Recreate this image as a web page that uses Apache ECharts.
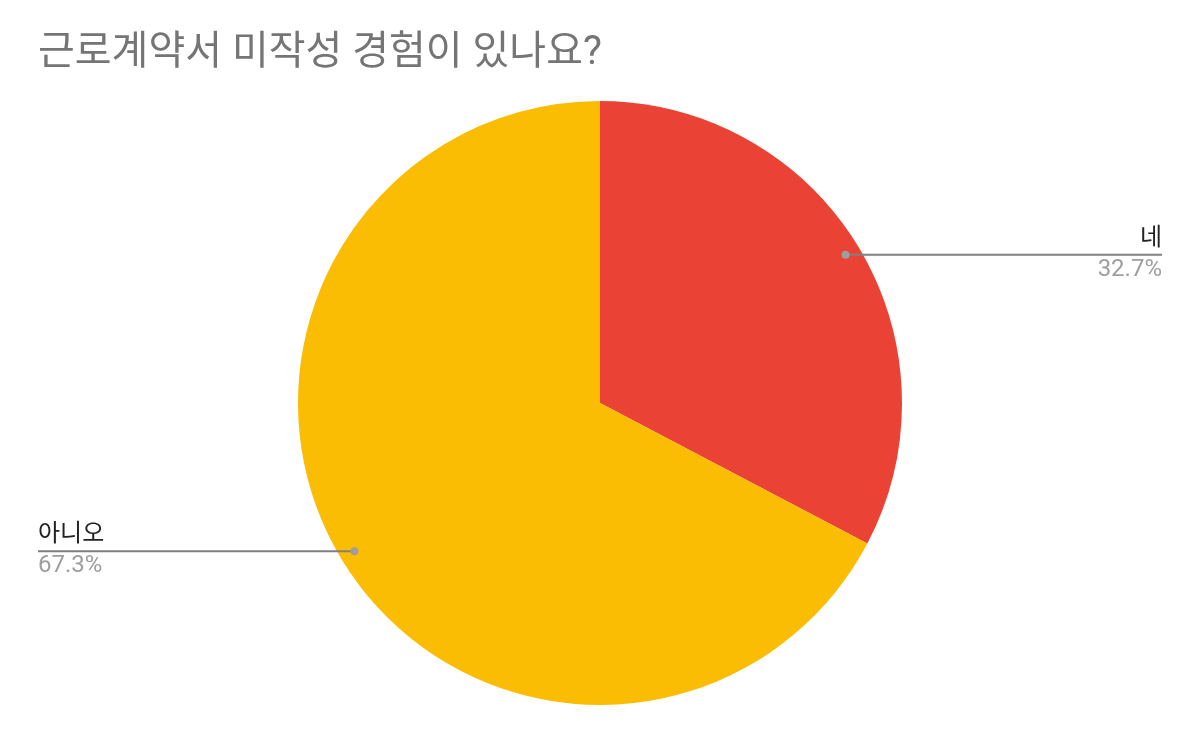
<!DOCTYPE html>
<html>
<head>
<meta charset="utf-8">
<script src="https://cdn.jsdelivr.net/npm/echarts@6/dist/echarts.min.js"></script>
<style>
html,body{margin:0;padding:0;background:#fff;}
#main{width:1200px;height:742px;}
</style>
</head>
<body>
<div id="main"></div>
<script>
// 데이터
var categories = ['네', '아니오'];
var values = [32.7, 67.3];
var colors = ['#ea4335', '#fbbc04'];

var cx = 600, cy = 403, R = 302;
var edge = 38;
var dotRatio = 0.95;

var chart = echarts.init(document.getElementById('main'));

function makeData(withColor) {
	return categories.map(function (c, i) {
		var d = { name: c, value: values[i] };
		if (withColor) d.itemStyle = { color: colors[i] };
		return d;
	});
}

// 조각 가운데 각도의 점 (시계방향, 12시 시작)
function midPoint(idx, r) {
	var total = 0, before = 0;
	for (var i = 0; i < values.length; i++) {
		total += values[i];
		if (i < idx) before += values[i];
	}
	var f = (before + values[idx] / 2) / total;
	var a = f * Math.PI * 2;
	return [cx + r * Math.sin(a), cy - r * Math.cos(a)];
}

// 라벨 위치 : 점에서 수평선으로 가장자리까지
function layoutLabel(params) {
	var p = midPoint(params.dataIndex, R * dotRatio);
	var right = p[0] > cx;
	var ex = right ? chart.getWidth() - edge : edge;
	return {
		x: ex,
		y: p[1] - 32,
		align: right ? 'right' : 'left',
		verticalAlign: 'top',
		labelLinePoints: [[p[0], p[1]], [ex, p[1]], [ex, p[1]]]
	};
}

//점 위치
function layoutDot(params) {
	var p = midPoint(params.dataIndex, R * dotRatio);
	return { x: p[0], y: p[1], align: 'center', verticalAlign: 'middle' };
}

var fontFamily = 'Roboto, "Noto Sans CJK KR", sans-serif';

chart.setOption({
	animation: false,
	title: {
		text: '근로계약서 미작성 경험이 있나요?',
		left: 33,
		top: 29,
		textStyle: {
			fontFamily: fontFamily,
			fontSize: 40,
			fontWeight: 'normal',
			color: '#757575'
		}
	},
	series: [
		{
			// 색 조각
			type: 'pie',
			center: [cx, cy],
			radius: [0, R],
			startAngle: 90,
			clockwise: true,
			silent: true,
			z: 2,
			data: makeData(true),
			label: { show: false },
			labelLine: { show: false }
		},
		{
			// 라벨 + 지시선 (투명 조각 위에)
			type: 'pie',
			center: [cx, cy],
			radius: [0, R],
			startAngle: 90,
			clockwise: true,
			percentPrecision: 1,
			silent: true,
			z: 3,
			data: makeData(false),
			itemStyle: { color: 'rgba(0,0,0,0)' },
			label: {
				show: true,
				formatter: '{n|{b}}\n{p|{d}%}',
				rich: {
					n: {
						fontFamily: fontFamily,
						fontSize: 24,
						color: '#222222',
						height: 32
					},
					p: {
						fontFamily: fontFamily,
						fontSize: 24,
						color: '#9e9e9e',
						height: 30
					}
				}
			},
			labelLine: {
				show: true,
				lineStyle: { color: '#7f7f7f', width: 2 }
			},
			labelLayout: layoutLabel
		},
		{
			// 지시선 시작점의 점
			type: 'pie',
			center: [cx, cy],
			radius: [R * dotRatio - 5, R * dotRatio + 5],
			startAngle: 90,
			clockwise: true,
			silent: true,
			z: 4,
			data: makeData(false),
			itemStyle: { color: 'rgba(0,0,0,0)' },
			label: {
				show: true,
				position: 'inside',
				formatter: ' ',
				fontSize: 1,
				lineHeight: 8,
				width: 8,
				height: 8,
				padding: 0,
				borderRadius: 4,
				backgroundColor: '#9e9e9e'
			},
			labelLine: { show: false },
			labelLayout: layoutDot
		}
	]
});
</script>
</body>
</html>
